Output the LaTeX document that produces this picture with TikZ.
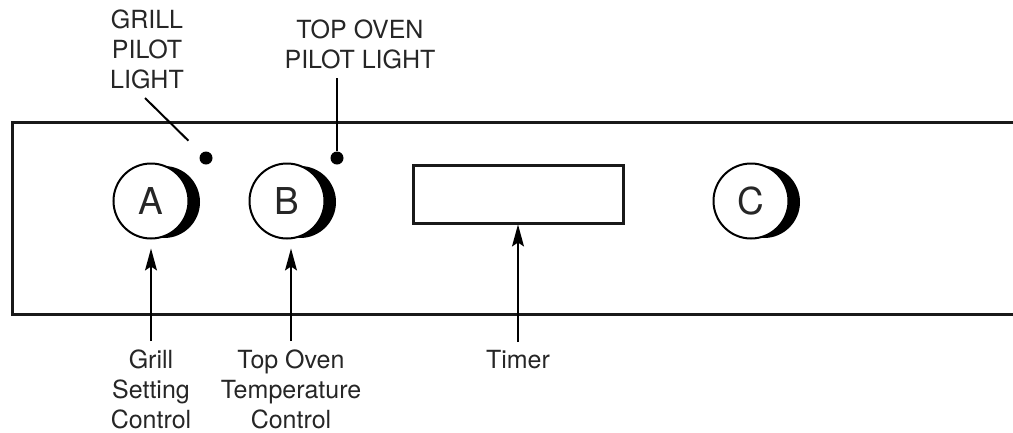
\documentclass[tikz,border=0pt]{standalone}
\usepackage{fontspec}
\setmainfont{TeX Gyre Heros}
\usetikzlibrary{calc,arrows.meta}
\tikzset{
  lbl/.style={inner sep=0pt, anchor=north, align=center, font=\fontsize{25}{30}\selectfont, text=black!85},
  knob/.style={circle, draw=black, line width=2pt, fill=white, minimum size=75pt, inner sep=0pt, font=\fontsize{37}{40}\selectfont, text=black!85},
  shade/.style={fill=black},
  pilot/.style={circle, fill=black, minimum size=13pt, inner sep=0pt},
  panel/.style={line width=3pt, draw=black!90},
  arr/.style={line width=1.3pt, -{Stealth[length=22pt, width=12pt, inset=4pt]}},
  pline/.style={line width=2pt},
  timerbox/.style={draw=black!90, line width=3pt, minimum width=210pt, minimum height=58pt, inner sep=0pt}
}
\begin{document}
\begin{tikzpicture}[x=1pt, y=-1pt]
\useasboundingbox (0,0) rectangle (1013,432);
% panel
\coordinate (ptr) at (1013,122);
\coordinate (ptl) at (12,122);
\coordinate (pbl) at (12,314);
\coordinate (pbr) at (1013,314);
\draw[panel] (ptr) -- (ptl) -- (pbl) -- (pbr);
% knob centres
\coordinate (cA) at (151,201);
\coordinate (cB) at (287,201);
\coordinate (cC) at (751,201);
\fill[shade] ($(cA)+(13,1)$) circle (36pt);
\fill[shade] ($(cB)+(13,1)$) circle (36pt);
\fill[shade] ($(cC)+(13,1)$) circle (36pt);
\node[knob] (A) at (cA) {A};
\node[knob] (B) at (cB) {B};
\node[knob] (C) at (cC) {C};
% pilot lights
\node[pilot] (pA) at (206,158) {};
\node[pilot] (pB) at (337,158) {};
% timer
\node[timerbox] (T) at (518,194) {};
% top labels
\node[lbl] (gpl) at (147,10) {GRILL\\PILOT\\LIGHT};
\node[lbl] (tpl) at (360,20) {TOP OVEN\\PILOT LIGHT};
\coordinate (gplTail) at (145,98);
\coordinate (tplTail) at (337,78);
\draw[pline, shorten >=18pt] (gplTail) -- (pA);
\draw[line width=2.6pt] (tplTail) -- (pB);
% bottom labels
\node[lbl] (lA) at (151,350) {Grill\\Setting\\Control};
\node[lbl] (lB) at (291,350) {Top Oven\\Temperature\\Control};
\node[lbl] (lT) at (518,350) {Timer};
\draw[arr, shorten <=9pt, shorten >=9pt] (lA.north) -- (lA.north |- A.south);
\draw[arr, shorten <=9pt, shorten >=9pt] (lB.north) -- (lB.north |- B.south);
\draw[arr, shorten <=8pt, shorten >=0pt] (lT.north) -- (T.south);
\end{tikzpicture}
\end{document}
